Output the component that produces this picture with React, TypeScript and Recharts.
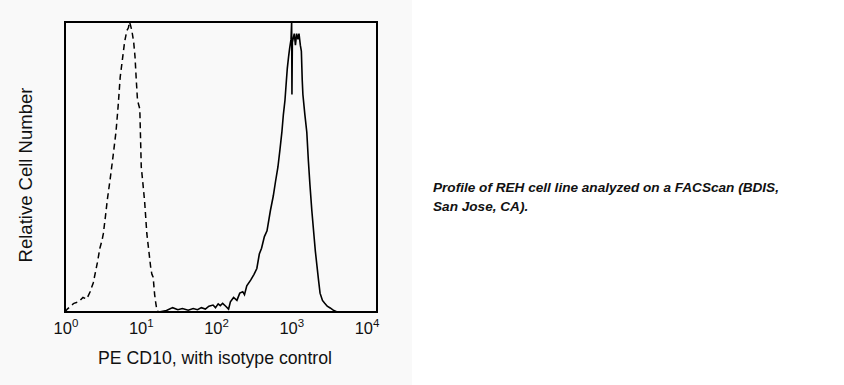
import React from "react";
import { LineChart, Line, XAxis, YAxis, ReferenceArea } from "recharts";

// Fluorescence intensity (PE CD10) vs relative cell number (% of max)
const isotypeControl = [
  { x: 1.0, y: 0 }, { x: 1.07, y: 1 }, { x: 1.3, y: 3 }, { x: 1.5, y: 3.5 }, { x: 1.7, y: 5 },
  { x: 1.9, y: 4.5 }, { x: 2.1, y: 7 }, { x: 2.3, y: 10 }, { x: 2.6, y: 17 }, { x: 2.8, y: 22 },
  { x: 3.0, y: 25 }, { x: 3.1, y: 27 }, { x: 3.3, y: 33 }, { x: 3.5, y: 39 }, { x: 3.8, y: 46 },
  { x: 4.1, y: 53 }, { x: 4.5, y: 62 }, { x: 4.7, y: 68 }, { x: 4.8, y: 71 }, { x: 5.1, y: 81 },
  { x: 5.5, y: 88 }, { x: 5.8, y: 93 }, { x: 6.2, y: 97 }, { x: 6.5, y: 98 }, { x: 6.7, y: 100 },
  { x: 6.9, y: 99 }, { x: 7.2, y: 97 }, { x: 7.6, y: 93 }, { x: 7.9, y: 88 }, { x: 8.2, y: 80 },
  { x: 8.5, y: 73 }, { x: 8.7, y: 72 }, { x: 9.1, y: 70 }, { x: 9.3, y: 60 }, { x: 9.5, y: 50 },
  { x: 10.0, y: 44 }, { x: 10.5, y: 38 }, { x: 11.2, y: 27 }, { x: 12.0, y: 20 }, { x: 12.6, y: 15 },
  { x: 13.0, y: 13 }, { x: 13.5, y: 12 }, { x: 14.1, y: 6 }, { x: 14.6, y: 3 }, { x: 15.1, y: 0.5 },
  { x: 16, y: 0 },
];

const cd10 = [
  { x: 16, y: 0 }, { x: 20, y: 0.5 }, { x: 24, y: 1.5 }, { x: 28, y: 0.8 }, { x: 32, y: 1.2 },
  { x: 38, y: 0.6 }, { x: 44, y: 1.2 }, { x: 50, y: 0.8 }, { x: 56, y: 1.5 }, { x: 63, y: 1 },
  { x: 70, y: 2 }, { x: 79, y: 2.4 }, { x: 85, y: 1.5 }, { x: 92, y: 2.8 }, { x: 98, y: 2.2 },
  { x: 105, y: 3 }, { x: 115, y: 2 }, { x: 125, y: 1 }, { x: 132, y: 3.5 }, { x: 145, y: 5 },
  { x: 160, y: 4 }, { x: 174, y: 6.5 }, { x: 190, y: 7 }, { x: 200, y: 6 }, { x: 214, y: 9 },
  { x: 240, y: 11 }, { x: 265, y: 13 }, { x: 288, y: 15 }, { x: 310, y: 20 }, { x: 331, y: 22 },
  { x: 360, y: 26 }, { x: 389, y: 28 }, { x: 430, y: 35 }, { x: 468, y: 40 }, { x: 500, y: 45 },
  { x: 537, y: 50 }, { x: 570, y: 56 }, { x: 603, y: 62 }, { x: 630, y: 68 }, { x: 661, y: 73 },
  { x: 690, y: 80 }, { x: 708, y: 84 }, { x: 735, y: 88 }, { x: 759, y: 91 }, { x: 790, y: 94 },
  { x: 805, y: 100 }, { x: 812, y: 75 }, { x: 822, y: 93 }, { x: 870, y: 96 }, { x: 900, y: 92 },
  { x: 933, y: 96 }, { x: 970, y: 94 }, { x: 1000, y: 96 }, { x: 1040, y: 92 }, { x: 1072, y: 90 },
  { x: 1100, y: 80 }, { x: 1122, y: 75 }, { x: 1190, y: 68 }, { x: 1259, y: 62 }, { x: 1320, y: 52 },
  { x: 1380, y: 44 }, { x: 1460, y: 35 }, { x: 1549, y: 27 }, { x: 1620, y: 21 }, { x: 1698, y: 16 },
  { x: 1780, y: 11 }, { x: 1862, y: 6.5 }, { x: 2000, y: 4 }, { x: 2138, y: 3 }, { x: 2300, y: 2 },
  { x: 2512, y: 1.4 }, { x: 2800, y: 0.5 }, { x: 3090, y: 0 },
];

const xTicks = [1, 10, 100, 1000, 10000];
const xTitle = "PE CD10, with isotype control";
const yTitle = "Relative Cell Number";
const captionLines = ["Profile of REH cell line analyzed on a FACScan (BDIS,", "San Jose, CA)."];

const FONT = "'Liberation Sans', Arial, sans-serif";
const PLOT_LEFT = 65;

const PowerTick = (props: any) => {
  const { x, y, payload } = props;
  const exp = Math.round(Math.log10(payload.value));
  const lx = PLOT_LEFT + (x - PLOT_LEFT) * 0.965 + 1;
  return (
    <text x={lx} y={y + 14} textAnchor="middle" fontFamily={FONT} fontSize={16.5} fill="#111">
      10
      <tspan dy={-7} fontSize={11.5}>{exp}</tspan>
    </text>
  );
};

export default function App() {
  return (
    <div style={{ position: "absolute", left: 0, top: 0, width: 844, height: 385, background: "#fff", fontFamily: FONT }}>
      <div style={{ position: "absolute", left: 0, top: 0, width: 412, height: 385, background: "#f9f9f9" }} />
      <div style={{ position: "absolute", left: 0, top: 0 }}>
        <LineChart width={412} height={385} data={cd10} margin={{ top: 22, right: 35, left: 65, bottom: 43 }}>
          <XAxis
            dataKey="x"
            type="number"
            scale="log"
            domain={[1, 10000]}
            ticks={xTicks}
            allowDataOverflow
            axisLine={false}
            tickLine={false}
            height={30}
            tick={<PowerTick />}
            interval={0}
          />
          <YAxis hide type="number" domain={[0, 100]} allowDataOverflow />
          <ReferenceArea x1={1} x2={10000} y1={0} y2={100} fill="none" stroke="#000" strokeWidth={2} />
          <Line data={isotypeControl} dataKey="y" type="linear" stroke="#000" strokeWidth={1.5} strokeDasharray="6 4" dot={false} isAnimationActive={false} />
          <Line data={cd10} dataKey="y" type="linear" stroke="#000" strokeWidth={1.6} dot={false} isAnimationActive={false} />
        </LineChart>
      </div>
      <div style={{ position: "absolute", left: 65, width: 300, top: 348, textAlign: "center", fontSize: 17.7, color: "#111", whiteSpace: "nowrap" }}>
        {xTitle}
      </div>
      <div
        style={{
          position: "absolute",
          left: 26,
          top: 175,
          transform: "translate(-50%, -50%) rotate(-90deg)",
          fontSize: 18.5,
          color: "#111",
          whiteSpace: "nowrap",
        }}
      >
        {yTitle}
      </div>
      <div style={{ position: "absolute", left: 433, top: 178, fontSize: 13.6, fontWeight: "bold", fontStyle: "italic", lineHeight: "19px", color: "#111" }}>
        {captionLines.map((l, i) => (
          <div key={i}>{l}</div>
        ))}
      </div>
    </div>
  );
}
